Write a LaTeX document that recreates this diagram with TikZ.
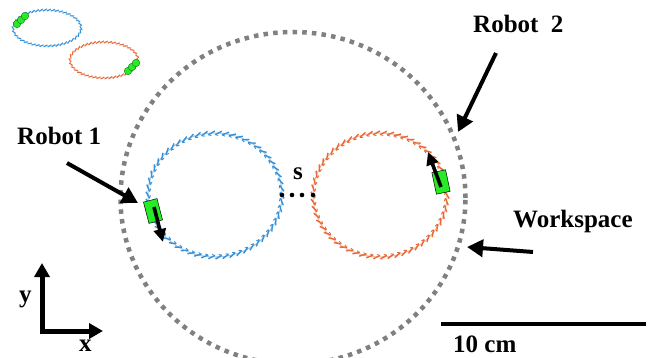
\documentclass[tikz,border=0pt]{standalone}
\usepackage{fontspec}
\setmainfont{Liberation Serif}
\usetikzlibrary{arrows.meta,decorations.markings}
\definecolor{ropeblue}{RGB}{55,145,215}
\definecolor{ropeorange}{RGB}{232,105,55}
\definecolor{wsgray}{RGB}{128,128,128}
\definecolor{robgreen}{RGB}{40,235,40}
\definecolor{darkgreen}{RGB}{20,120,20}
\tikzset{
  lbl/.style={font=\bfseries\fontsize{25}{25}\selectfont, inner sep=0pt, anchor=base west},
  bigarrow/.style={line width=4pt, -{Triangle[length=16pt,width=17pt]}},
  robarrow/.style={line width=3.6pt, -{Triangle[length=13pt,width=12pt]}},
  rope/.style={draw=#1!50!white, line width=1pt, postaction={decorate, decoration={markings,
     mark=between positions 0 and 1 step 7pt with {\draw[#1, line width=1.4pt] (-3.5pt,-2pt) -- (3pt,1.6pt); \draw[#1, line width=0.9pt] (3pt,1.6pt) -- (0pt,2.4pt);}}}},
  smallrope/.style={draw=#1!50!white, line width=0.7pt, postaction={decorate, decoration={markings,
     mark=between positions 0 and 1 step 4pt with {\draw[#1, line width=1pt] (-2pt,-1.1pt) -- (1.8pt,1.1pt);}}}},
  robbody/.style={fill=robgreen, draw=black, line width=0.5pt},
  minirob/.style={fill=robgreen, draw=darkgreen, line width=0.4pt},
  workspace/.style={draw=wsgray, line width=4.5pt, dash pattern=on 4.5pt off 5.2pt},
}
\begin{document}
\begin{tikzpicture}[x=1pt,y=-1pt]
\useasboundingbox (0,0) rectangle (652,358);
% workspace
\draw[workspace] (293,198) ellipse [x radius=172.5pt, y radius=166pt];
% small ellipses top left
\draw[smallrope=ropeblue] (47,28) ellipse [x radius=34pt, y radius=18pt];
\draw[smallrope=ropeorange] (104,60) ellipse [x radius=34pt, y radius=18pt];
\foreach \p in {(17,24),(21,20),(25,16)} \draw[minirob] \p circle (3.8pt);
\foreach \p in {(128,71),(132,67),(136,63)} \draw[minirob] \p circle (3.8pt);
% main circles
\draw[rope=ropeblue] (215,195) ellipse [x radius=67pt, y radius=62pt];
\draw[rope=ropeorange] (380,195) ellipse [x radius=67pt, y radius=62pt];
% separation dots
\foreach \xx in {282,292,302,313} \fill (\xx,195) circle (2.3pt);
\node[lbl] (s) at (293,179) {s};
% robot 1
\begin{scope}[shift={(153,211)},rotate=14.5]
  \draw[robbody] (-7pt,-11pt) rectangle (7pt,11pt);
\end{scope}
\coordinate (rob1) at (154,207);
\coordinate (rob1dir) at (163,242);
\draw[robarrow] (rob1) -- (rob1dir);
% robot 2
\begin{scope}[shift={(441,182)},rotate=12]
  \draw[robbody] (-7pt,-11pt) rectangle (7pt,11pt);
\end{scope}
\coordinate (rob2) at (441,187);
\coordinate (rob2dir) at (428,152);
\draw[robarrow] (rob2) -- (rob2dir);
% labels and pointer arrows
\node[lbl] (r1) at (17,145) {Robot 1};
\coordinate (r1tail) at (67,163);
\coordinate (r1tip) at (138,203);
\draw[bigarrow] (r1tail) -- (r1tip);
\node[lbl] (r2) at (473,33) {Robot~~2};
\coordinate (r2tail) at (496,53);
\coordinate (r2tip) at (458,132);
\draw[bigarrow] (r2tail) -- (r2tip);
\node[lbl] (ws) at (513,227) {Workspace};
\coordinate (wstail) at (533,252);
\coordinate (wstip) at (467,247);
\draw[bigarrow] (wstail) -- (wstip);
% axes
\coordinate (ytip) at (42,263);
\coordinate (origin) at (42,331);
\coordinate (xtip) at (103,331);
\draw[line width=5pt, line join=miter, {Triangle[length=14pt,width=15pt]}-{Triangle[length=14pt,width=15pt]}] (ytip) -- (origin) -- (xtip);
\node[lbl] (ylab) at (19,302) {y};
\node[lbl] (xlab) at (79,351) {x};
% scale bar
\coordinate (sb1) at (441,324);
\coordinate (sb2) at (646,324);
\draw[line width=4pt] (sb1) -- (sb2);
\node[lbl] (sbl) at (453,352) {10 cm};
\end{tikzpicture}
\end{document}
